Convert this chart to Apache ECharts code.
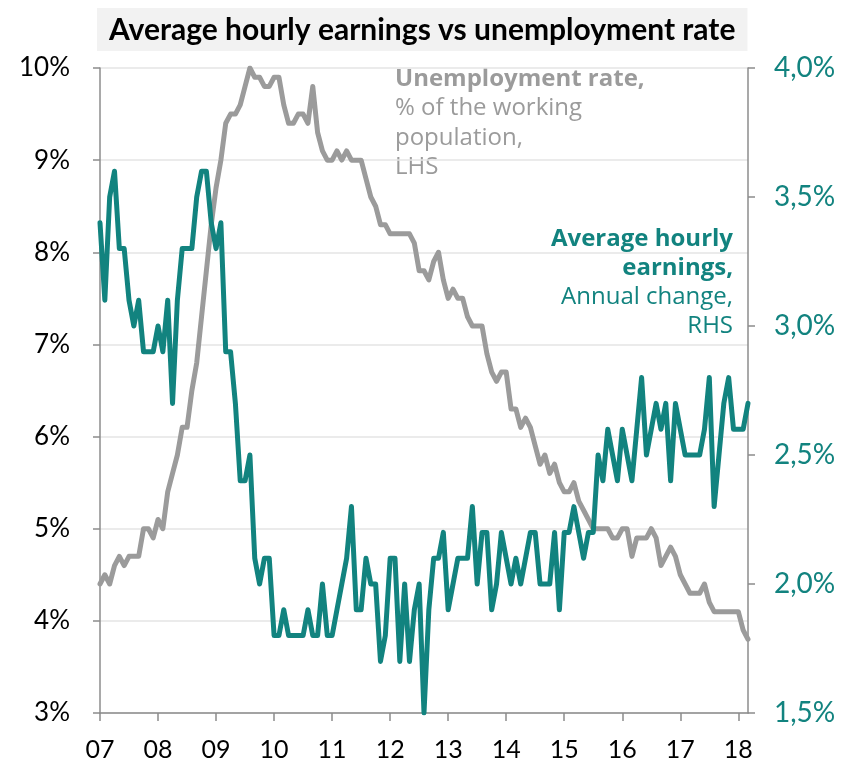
<!DOCTYPE html>
<html>
<head>
<meta charset="utf-8">
<script src="https://cdn.jsdelivr.net/npm/echarts@6/dist/echarts.min.js"></script>
<style>
  html, body { margin: 0; padding: 0; background: #fff; }
  #chart { width: 856px; height: 773px; }
</style>
</head>
<body>
<div id="chart"></div>
<script>
// monthly, Mar 2007 .. May 2018
const startYear = 2007
const startMonth = 3
const monthCount = 135
const yearLabels = ['07', '08', '09', '10', '11', '12', '13', '14', '15', '16', '17', '18']

// unemployment rate, % (LHS)
const unemployment = [
  4.4, 4.5, 4.4, 4.6, 4.7, 4.6, 4.7, 4.7, 4.7, 5.0,
  5.0, 4.9, 5.1, 5.0, 5.4, 5.6, 5.8, 6.1, 6.1, 6.5, 6.8, 7.3,
  7.8, 8.3, 8.7, 9.0, 9.4, 9.5, 9.5, 9.6, 9.8, 10.0, 9.9, 9.9,
  9.8, 9.8, 9.9, 9.9, 9.6, 9.4, 9.4, 9.5, 9.5, 9.4, 9.8, 9.3,
  9.1, 9.0, 9.0, 9.1, 9.0, 9.1, 9.0, 9.0, 9.0, 8.8, 8.6, 8.5,
  8.3, 8.3, 8.2, 8.2, 8.2, 8.2, 8.2, 8.1, 7.8, 7.8, 7.7, 7.9,
  8.0, 7.7, 7.5, 7.6, 7.5, 7.5, 7.3, 7.2, 7.2, 7.2, 6.9, 6.7,
  6.6, 6.7, 6.7, 6.3, 6.3, 6.1, 6.2, 6.1, 5.9, 5.7, 5.8, 5.6,
  5.7, 5.5, 5.4, 5.4, 5.5, 5.3, 5.2, 5.1, 5.0, 5.0, 5.0, 5.0,
  4.9, 4.9, 5.0, 5.0, 4.7, 4.9, 4.9, 4.9, 5.0, 4.9, 4.6, 4.7,
  4.8, 4.7, 4.5, 4.4, 4.3, 4.3, 4.3, 4.4, 4.2, 4.1, 4.1, 4.1,
  4.1, 4.1, 4.1, 3.9, 3.8
]

// average hourly earnings, annual change % (RHS)
const earnings = [
  3.4, 3.1, 3.5, 3.6, 3.3, 3.3, 3.1, 3.0, 3.1, 2.9,
  2.9, 2.9, 3.0, 2.9, 3.1, 2.7, 3.1, 3.3, 3.3, 3.3, 3.5, 3.6,
  3.6, 3.4, 3.3, 3.4, 2.9, 2.9, 2.7, 2.4, 2.4, 2.5, 2.1, 2.0,
  2.1, 2.1, 1.8, 1.8, 1.9, 1.8, 1.8, 1.8, 1.8, 1.9, 1.8, 1.8,
  2.0, 1.8, 1.8, 1.9, 2.0, 2.1, 2.3, 1.9, 1.9, 2.1, 2.0, 2.0,
  1.7, 1.8, 2.1, 2.1, 1.7, 2.0, 1.7, 1.9, 2.0, 1.5, 1.9, 2.1,
  2.1, 2.2, 1.9, 2.0, 2.1, 2.1, 2.1, 2.3, 2.0, 2.2, 2.2, 1.9,
  2.0, 2.2, 2.1, 2.0, 2.1, 2.0, 2.1, 2.2, 2.2, 2.0, 2.0, 2.0,
  2.2, 1.9, 2.2, 2.2, 2.3, 2.2, 2.1, 2.2, 2.2, 2.5, 2.4, 2.6,
  2.5, 2.4, 2.6, 2.5, 2.4, 2.6, 2.8, 2.5, 2.6, 2.7, 2.6, 2.7,
  2.4, 2.7, 2.6, 2.5, 2.5, 2.5, 2.5, 2.6, 2.8, 2.3, 2.5, 2.7,
  2.8, 2.6, 2.6, 2.6, 2.7
]

const months = []
for (let i = 0; i < monthCount; i++) {
  const m = startMonth - 1 + i
  const y = startYear + Math.floor(m / 12)
  months.push(y + '-' + String((m % 12) + 1).padStart(2, '0'))
}

const GREY = '#9b9b9b'
const TEAL = '#12837f'
const AXIS = '#8c8c8c'

const chart = echarts.init(document.getElementById('chart'))

const option = {
  animation: false,
  title: {
    text: 'Average hourly earnings vs unemployment rate',
    left: 97,
    top: 8,
    backgroundColor: '#f2f2f2',
    padding: [7, 12, 6, 12],
    textStyle: { fontFamily: 'Lato', fontWeight: 'bold', fontSize: 30, color: '#000' }
  },
  grid: { left: 100, right: 108, top: 68, bottom: 60 },
  xAxis: {
    type: 'category',
    data: months,
    boundaryGap: false,
    axisLine: { lineStyle: { color: AXIS, width: 1.5 } },
    axisTick: { interval: 11, length: 8, lineStyle: { color: AXIS, width: 1.5 } },
    axisLabel: {
      interval: 11,
      margin: 24,
      color: '#000',
      fontFamily: 'Lato',
      fontSize: 25,
      formatter: (val, idx) => yearLabels[Math.round(idx / 12)]
    },
    splitLine: { show: false }
  },
  yAxis: [
    {
      type: 'value',
      min: 3,
      max: 10,
      interval: 1,
      position: 'left',
      axisLine: { show: true, lineStyle: { color: AXIS, width: 1.5 } },
      axisTick: { show: true, length: 7, lineStyle: { color: AXIS, width: 1.5 } },
      axisLabel: { margin: 30, color: '#000', fontFamily: 'Lato', fontSize: 26, formatter: v => v + '%' },
      splitLine: { lineStyle: { color: '#e4e4e4', width: 1.5 } }
    },
    {
      type: 'value',
      min: 1.5,
      max: 4.0,
      interval: 0.5,
      position: 'right',
      axisLine: { show: true, lineStyle: { color: AXIS, width: 1.5 } },
      axisTick: { show: true, length: 7, lineStyle: { color: AXIS, width: 1.5 } },
      axisLabel: { margin: 26, color: TEAL, fontFamily: 'Lato', fontSize: 28, formatter: v => v.toFixed(1).replace('.', ',') + '%' },
      splitLine: { show: false }
    }
  ],
  graphic: [
    {
      type: 'text',
      left: 395,
      top: 67,
      style: {
        text: '{b|Unemployment rate,}\n{n|% of the working}\n{n|population,}\n{n|LHS}',
        rich: {
          b: { fontFamily: 'Open Sans', fontWeight: 'bold', fontSize: 24, lineHeight: 29.5, fill: GREY },
          n: { fontFamily: 'Open Sans', fontSize: 24, lineHeight: 29.5, fill: GREY }
        }
      }
    },
    {
      type: 'text',
      right: 856 - 733,
      top: 227,
      style: {
        align: 'right',
        text: '{b|Average hourly}\n{b|earnings,}\n{n|Annual change,}\n{n|RHS}',
        rich: {
          b: { fontFamily: 'Open Sans', fontWeight: 'bold', fontSize: 24, lineHeight: 29, fill: TEAL, align: 'right' },
          n: { fontFamily: 'Open Sans', fontSize: 24, lineHeight: 29, fill: TEAL, align: 'right' }
        }
      }
    }
  ],
  series: [
    {
      name: 'Unemployment rate',
      type: 'line',
      yAxisIndex: 0,
      data: unemployment,
      symbol: 'none',
      lineStyle: { width: 5, color: GREY, cap: 'round', join: 'round' },
      itemStyle: { color: GREY },
      z: 2
    },
    {
      name: 'Average hourly earnings',
      type: 'line',
      yAxisIndex: 1,
      data: earnings,
      symbol: 'none',
      lineStyle: { width: 5, color: TEAL, cap: 'round', join: 'round' },
      itemStyle: { color: TEAL },
      z: 3
    }
  ]
}

chart.setOption(option)
window.addEventListener('resize', () => chart.resize())
</script>
</body>
</html>
